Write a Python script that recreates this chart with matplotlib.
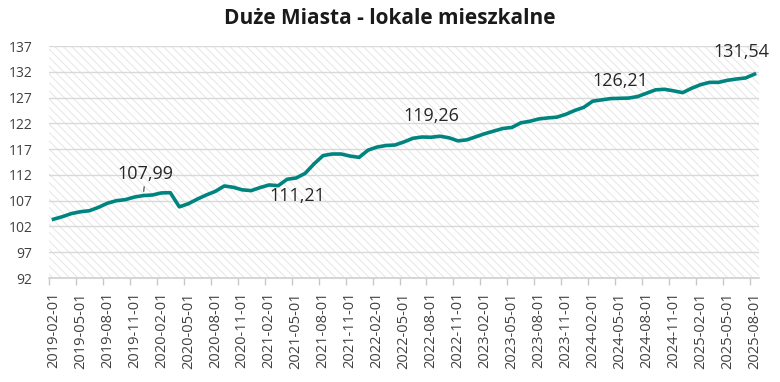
import numpy as np
import pandas as pd
import matplotlib
matplotlib.use("Agg")
import matplotlib.pyplot as plt
from matplotlib.patches import Rectangle

# monthly index values, 2019-02 .. 2025-08
dates = pd.date_range("2019-02-01", "2025-08-01", freq="MS")
values = [
    103.4, 103.9, 104.5, 104.85, 105.05, 105.7, 106.5, 107.0, 107.2, 107.7,
    107.99, 108.1, 108.5, 108.55, 105.8, 106.4, 107.3, 108.1, 108.8, 109.85,
    109.6, 109.1, 108.95, 109.55, 110.05, 109.9, 111.15, 111.4, 112.3, 114.15,
    115.75, 116.05, 116.05, 115.65, 115.4, 116.8, 117.4, 117.7, 117.8, 118.4,
    119.1, 119.35, 119.3, 119.5, 119.2, 118.6, 118.8, 119.4, 120.0, 120.5,
    121.0, 121.2, 122.1, 122.4, 122.85, 123.05, 123.2, 123.75, 124.5, 125.1,
    126.3, 126.55, 126.8, 126.85, 126.9, 127.2, 127.85, 128.5, 128.6, 128.3,
    127.95, 128.8, 129.5, 129.95, 129.95, 130.35, 130.6, 130.8, 131.54,
]
tick_labels = [d.strftime("%Y-%m-%d") for d in dates]

# data labels shown on the chart
label_idx = [10, 27, 42, 63, 78]
label_txt = ["107,99", "111,21", "119,26", "126,21", "131,54"]
label_off = [(2, 22), (1, -18), (0, 21), (1, 17), (-13, 22)]  # pixels

line_color = "#00847f"
text_color = "#404040"

plt.rcParams["font.family"] = ["Open Sans", "DejaVu Sans"]
plt.rcParams["hatch.linewidth"] = 0.6

fig = plt.figure(figsize=(7.8, 3.82), dpi=100)
ax = fig.add_axes([49 / 780, 1 - 278 / 382, 710 / 780, 232 / 382])

# hatched plot background
ax.add_patch(Rectangle((0, 0), 1, 1, transform=ax.transAxes, facecolor="white",
                       edgecolor="#e2e2e2", hatch="\\\\\\\\", lw=0, zorder=0))

x = np.arange(len(values))
ax.plot(x, values, color=line_color, lw=2.6, solid_joinstyle="round",
        solid_capstyle="projecting", zorder=3)

for i, t, off in zip(label_idx, label_txt, label_off):
    arrow = None
    if i == 10:
        arrow = dict(arrowstyle="-", color=text_color, lw=0.8, shrinkA=1, shrinkB=3)
    ax.annotate(t, xy=(x[i], values[i]), xytext=off, textcoords="offset pixels",
                ha="center", va="center", fontsize=13, color="#262626",
                arrowprops=arrow, zorder=4)

ax.set_xlim(-0.5, len(values) - 0.5)
ax.set_ylim(92, 137)
ax.set_yticks(np.arange(92, 138, 5))
ax.grid(axis="y", color="#d9d9d9", lw=1.0, zorder=1)
ax.set_axisbelow(True)

# tick marks on category boundaries, labels on category centres
ax.set_xticks(x[::3] - 0.5)
ax.set_xticklabels([])
ax.set_xticks(x[::3], minor=True)
ax.set_xticklabels(tick_labels[::3], minor=True, rotation=90)
ax.tick_params(axis="x", which="major", length=5, color="#c8c8c8", width=1)
ax.tick_params(axis="x", which="minor", length=0, pad=10, labelsize=10.5,
               labelcolor=text_color)
ax.tick_params(axis="y", length=0, pad=12, labelsize=10, labelcolor=text_color)

for s in ["left", "right", "top"]:
    ax.spines[s].set_visible(False)
ax.spines["bottom"].set_color("#d0d0d0")
ax.spines["bottom"].set_linewidth(1.2)

fig.text(0.5, 1 - 18 / 382, "Duże Miasta - lokale mieszkalne", ha="center",
         va="center", fontsize=15, fontweight="bold", color="#1a1a1a")

fig.savefig("out.png", dpi=100)
